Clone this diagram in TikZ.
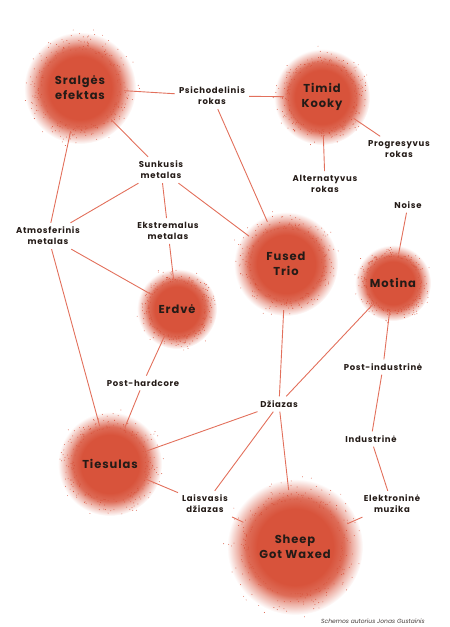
\documentclass[tikz,border=0pt]{standalone}
\usepackage{fontspec}
\setmainfont{Poppins}
\newfontfamily\tagfont{Poppins}[LetterSpace=8]
\usetikzlibrary{backgrounds}

\definecolor{blobred}{HTML}{D8533B}
\definecolor{linkred}{HTML}{E2705C}
\definecolor{inkdark}{HTML}{241B17}
\pgfdeclareradialshading{blobfuzz}{\pgfpoint{0bp}{0bp}}{color(0bp)=(blobred); color(14bp)=(blobred); color(18bp)=(blobred!85!white); color(21bp)=(blobred!45!white); color(25bp)=(white); color(50bp)=(white)}

\begin{document}
\begin{tikzpicture}[
  x=1pt, y=-1pt,
  blob/.style={circle, inner sep=0pt, text=inkdark, align=center,
               font=\tagfont\bfseries\fontsize{11.5}{15}\selectfont},
  tag/.style={inner sep=4pt, text=inkdark, align=center,
              font=\tagfont\bfseries\fontsize{8.5}{11}\selectfont},
  link/.style={draw=linkred, line width=0.9pt},
  grain/.style={fill=blobred}
]
\useasboundingbox (0,0) rectangle (450,627);

% bands
\node[blob, minimum size=88pt]  (sral)   at (80,88)   {Sralgės\\efektas};
\node[blob, minimum size=76pt]  (timid)  at (322,97)  {Timid\\Kooky};
\node[blob, minimum size=92pt]  (fused)  at (286,264) {Fused\\Trio};
\node[blob, minimum size=58pt]  (motina) at (393,283) {Motina};
\node[blob, minimum size=54pt]  (erdve)  at (177,309) {Erdvė};
\node[blob, minimum size=78pt]  (ties)   at (110,464) {Tiesulas};
\node[blob, minimum size=114pt] (sheep)  at (295,547) {Sheep\\Got Waxed};

% genres
\node[tag] (psich)   at (212,96)  {Psichodelinis\\rokas};
\node[tag] (sunk)    at (161,170) {Sunkusis\\metalas};
\node[tag] (atmo)    at (48,236)  {Atmosferinis\\metalas};
\node[tag] (ekst)    at (168,231) {Ekstremalus\\metalas};
\node[tag] (alt)     at (325,184) {Alternatyvus\\rokas};
\node[tag] (prog)    at (399,149) {Progresyvus\\rokas};
\node[tag] (noise)   at (408,205) {Noise};
\node[tag] (postind) at (383,367) {Post-industrinė};
\node[tag] (posthc)  at (143,383) {Post-hardcore};
\node[tag] (dz)      at (279,404) {Džiazas};
\node[tag] (ind)     at (371,439) {Industrinė};
\node[tag] (laisv)   at (205,504) {Laisvasis\\džiazas};
\node[tag] (elek)    at (392,504) {Elektroninė\\muzika};

\node[text=inkdark!85, font=\itshape\fontsize{6}{7}\selectfont] (credit) at (373,621)
  {Schemos autorius Jonas Gustainis};

% fuzzy grainy halos behind the bands
\begin{pgfonlayer}{background}
\foreach \b/\r in {sral/56,timid/48,fused/52,motina/38,erdve/40,ties/52,sheep/68}
  \shade[shading=blobfuzz] (\b) circle (\r pt);
\pgfmathsetseed{4711}
\foreach \b/\r in {sral/56,timid/48,fused/52,motina/38,erdve/40,ties/52,sheep/68}
  \foreach \k in {1,...,260} {
    \pgfmathsetmacro\ang{360*rnd}
    \pgfmathsetmacro\dd{\r*(0.68+0.42*rnd*rnd)}
    \fill[grain] (\b) ++(\ang:\dd pt) circle (0.45pt);
  }
\end{pgfonlayer}

\draw[link] (sral) -- (psich);
\draw[link] (psich) -- (timid);
\draw[link] (psich) -- (fused);
\draw[link] (sral) -- (sunk);
\draw[link] (sral) -- (atmo);
\draw[link] (sunk) -- (atmo);
\draw[link] (sunk) -- (ekst);
\draw[link] (sunk) -- (fused);
\draw[link] (timid) -- (alt);
\draw[link] (timid) -- (prog);
\draw[link] (atmo) -- (erdve);
\draw[link] (ekst) -- (erdve);
\draw[link] (atmo) -- (ties);
\draw[link] (erdve) -- (posthc);
\draw[link] (posthc) -- (ties);
\draw[link] (noise) -- (motina);
\draw[link] (fused) -- (dz);
\draw[link] (motina) -- (dz);
\draw[link] (motina) -- (postind);
\draw[link] (postind) -- (ind);
\draw[link] (ind) -- (elek);
\draw[link] (dz) -- (ties);
\draw[link] (dz) -- (laisv);
\draw[link] (dz) -- (sheep);
\draw[link] (ties) -- (laisv);
\draw[link] (laisv) -- (sheep);
\draw[link] (elek) -- (sheep);
\end{tikzpicture}
\end{document}
